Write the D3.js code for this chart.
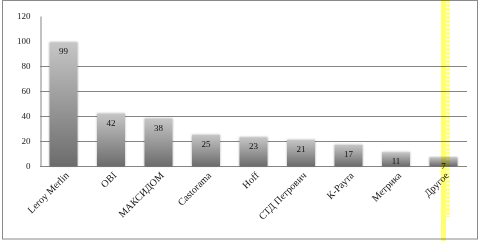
<!DOCTYPE html>
<html>
<head>
<meta charset="utf-8">
<script src="https://cdn.jsdelivr.net/npm/d3@7"></script>
<style>
  body { margin: 0; background: #fff; }
  svg { display: block; }
  text { font-family: "Liberation Serif", "DejaVu Serif", serif; }
</style>
</head>
<body>
<div id="chart"></div>
<script>
// chart data
var categories = ['Leroy Merlin', 'OBI', 'МАКСИДОМ', 'Castorama', 'Hoff', 'СТД Петрович', 'К-Раута', 'Метрика', 'Другое'];
var values = [99, 42, 38, 25, 23, 21, 17, 11, 7];
var yTicks = [0, 20, 40, 60, 80, 100, 120];
var gridTicks = [0, 20, 40, 60, 80];

var width = 482
var height = 241
var margin = { top: 16, right: 15, bottom: 75, left: 40 }

var svg = d3.select('#chart')
  .append('svg')
  .attr('width', width)
  .attr('height', height)

// outer frame
svg.append('rect')
  .attr('x', 2.5).attr('y', 0.5)
  .attr('width', 475).attr('height', 238.5)
  .attr('fill', 'none')
  .attr('stroke', '#8a8a8a')

var defs = svg.append('defs')
var grad = defs.append('linearGradient')
  .attr('id', 'barGrad')
  .attr('x1', 0).attr('y1', 0).attr('x2', 0).attr('y2', 1)
grad.append('stop').attr('offset', '0%').attr('stop-color', '#c6c6c6')
grad.append('stop').attr('offset', '100%').attr('stop-color', '#6c6c6c')

var shadow = defs.append('filter').attr('id', 'shadow')
  .attr('x', '-20%').attr('y', '-10%').attr('width', '140%').attr('height', '120%')
shadow.append('feGaussianBlur').attr('in', 'SourceAlpha').attr('stdDeviation', 1.2).attr('result', 'b')
shadow.append('feComponentTransfer').attr('in', 'b').attr('result', 's')
  .append('feFuncA').attr('type', 'linear').attr('slope', 0.35)
var merge = shadow.append('feMerge')
merge.append('feMergeNode').attr('in', 's')
merge.append('feMergeNode').attr('in', 'SourceGraphic')

// dashed pattern for the faint part of the highlighter
var pat = defs.append('pattern')
  .attr('id', 'dash')
  .attr('width', 4).attr('height', 4)
  .attr('patternUnits', 'userSpaceOnUse')
pat.append('rect').attr('width', 4).attr('height', 3).attr('fill', '#ffff80')

var x = d3.scaleBand()
  .domain(categories)
  .range([margin.left, width - margin.right])
  .paddingInner(0.41)
  .paddingOuter(0.2)

var y = d3.scaleLinear()
  .domain([0, 120])
  .range([166, margin.top])

// gridlines
svg.append('g')
  .selectAll('line')
  .data(gridTicks)
  .enter().append('line')
  .attr('x1', margin.left)
  .attr('x2', width - margin.right)
  .attr('y1', function (d) { return Math.round(y(d)) + 0.5 })
  .attr('y2', function (d) { return Math.round(y(d)) + 0.5 })
  .attr('stroke', '#858585')

// y axis
var yAxis = svg.append('g')
  .attr('transform', 'translate(' + (margin.left + 0.5) + ',0)')
  .call(d3.axisLeft(y).tickValues(yTicks).tickSize(0).tickPadding(10))
yAxis.select('.domain').attr('stroke', '#858585')
yAxis.selectAll('text')
  .attr('font-size', 9)
  .attr('fill', '#222')
  .style('font-family', '"Liberation Serif", serif')

// bars
svg.append('g')
  .selectAll('rect')
  .data(values)
  .enter().append('rect')
  .attr('x', function (d, i) { return x(categories[i]) })
  .attr('y', function (d) { return y(d) })
  .attr('width', x.bandwidth())
  .attr('height', function (d) { return y(0) - y(d) })
  .attr('fill', 'url(#barGrad)')
  .attr('filter', 'url(#shadow)')

// value labels
svg.append('g')
  .selectAll('text')
  .data(values)
  .enter().append('text')
  .attr('x', function (d, i) { return x(categories[i]) + x.bandwidth() / 2 })
  .attr('y', function (d) { return y(d) + 12 })
  .attr('text-anchor', 'middle')
  .attr('font-size', 9)
  .attr('fill', '#111')
  .text(function (d) { return d })

// category labels
svg.append('g')
  .selectAll('text')
  .data(categories)
  .enter().append('text')
  .attr('text-anchor', 'end')
  .attr('font-size', 10)
  .attr('fill', '#111')
  .attr('transform', function (d) {
    var cx = x(d) + x.bandwidth() / 2 + 6
    return 'translate(' + cx + ',176) rotate(-45)'
  })
  .text(function (d) { return d })

// yellow highlighter stripe (multiply so marks show through)
svg.append('rect')
  .attr('x', 441).attr('y', 0)
  .attr('width', 5).attr('height', 241)
  .attr('fill', '#ffff70')
  .style('mix-blend-mode', 'multiply')
svg.append('rect')
  .attr('x', 446).attr('y', 0)
  .attr('width', 4).attr('height', 217)
  .attr('fill', 'url(#dash)')
  .style('mix-blend-mode', 'multiply')
</script>
</body>
</html>
